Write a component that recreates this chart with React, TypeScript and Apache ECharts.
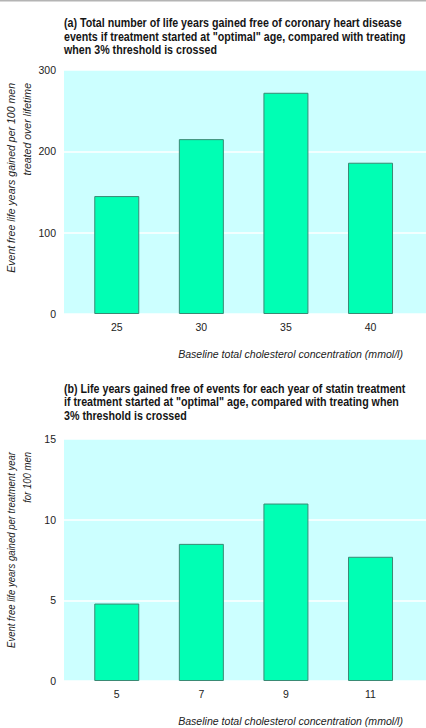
import React, { useEffect, useRef } from "react";
import * as echarts from "echarts";

const titleA =
  '(a) Total number of life years gained free of coronary heart disease\nevents if treatment started at "optimal" age, compared with treating\nwhen 3% threshold is crossed';
const titleB =
  '(b) Life years gained free of events for each year of statin treatment\nif treatment started at "optimal" age, compared with treating when\n3% threshold is crossed';

const categoriesA = ["25", "30", "35", "40"];
const valuesA = [145, 215, 272, 186];
const yMaxA = 300;
const yStepA = 100;

const categoriesB = ["5", "7", "9", "11"];
const valuesB = [4.8, 8.5, 11.0, 7.7];
const yMaxB = 15;
const yStepB = 5;

const yNameA = "Event free life years gained per 100 men\ntreated over lifetime";
const yNameB = "Event free life years gained per treatment year\nfor 100 men";
const xNameText = "Baseline total cholesterol concentration (mmol/l)";

const FONT = '"Liberation Sans", Arial, sans-serif';
const TXT = "#222";

function xAxisFor(gridIndex: number, cats: string[]) {
  const idx = cats.map((_, i) => i);
  return {
    type: "value",
    gridIndex,
    min: -0.624,
    max: 3.656,
    axisLine: { show: false },
    axisTick: { show: false },
    splitLine: { show: false },
    axisLabel: {
      customValues: idx,
      formatter: (v: number) => cats[Math.round(v)] ?? "",
      margin: 7,
      fontSize: 10.5,
      fontFamily: FONT,
      color: TXT,
    },
  };
}

function yAxisFor(gridIndex: number, max: number, step: number) {
  return {
    type: "value",
    gridIndex,
    min: 0,
    max,
    interval: step,
    axisLine: { show: false },
    axisTick: { show: false },
    splitLine: { show: true, lineStyle: { color: "#ffffff", width: 1.5 } },
    axisLabel: { margin: 8, fontSize: 10.5, fontFamily: FONT, color: TXT },
  };
}

function barSeries(idx: number, vals: number[]) {
  return {
    type: "bar",
    xAxisIndex: idx,
    yAxisIndex: idx,
    barWidth: 45,
    data: vals.map((v, i) => [i, v]),
    itemStyle: { color: "#00ffb4", borderColor: "#3a8a74", borderWidth: 1 },
  };
}

export default function App() {
  const ref = useRef<HTMLDivElement>(null);
  useEffect(() => {
    if (!ref.current) return;
    const chart = echarts.init(ref.current, undefined, { renderer: "svg" });
    const titleStyle = {
      fontSize: 12,
      fontWeight: "bold",
      fontFamily: FONT,
      fill: "#151515",
      lineHeight: 13.7,
      align: "left",
      verticalAlign: "top",
    };
    const axisNameStyle = {
      fontSize: 11.5,
      fontStyle: "italic",
      fontFamily: FONT,
      fill: TXT,
    };
    chart.setOption({
      animation: false,
      backgroundColor: "#ffffff",
      grid: [
        {
          left: 64,
          right: 0,
          top: 70,
          height: 244,
          show: true,
          backgroundColor: "#ccffff",
          borderWidth: 0,
        },
        {
          left: 64,
          right: 0,
          top: 439,
          height: 242,
          show: true,
          backgroundColor: "#ccffff",
          borderWidth: 0,
        },
      ],
      xAxis: [xAxisFor(0, categoriesA), xAxisFor(1, categoriesB)],
      yAxis: [yAxisFor(0, yMaxA, yStepA), yAxisFor(1, yMaxB, yStepB)],
      series: [barSeries(0, valuesA), barSeries(1, valuesB)],
      graphic: [
        {
          type: "line",
          shape: { x1: 0, y1: 0.75, x2: 426, y2: 0.75 },
          style: { stroke: "#b4b4b4", lineWidth: 1.5 },
        },
        {
          type: "text",
          x: 64,
          y: 16,
          scaleX: 0.89,
          style: { text: titleA, ...titleStyle },
        },
        {
          type: "text",
          x: 64,
          y: 381.5,
          scaleX: 0.89,
          style: { text: titleB, ...titleStyle },
        },
        {
          type: "text",
          x: 403,
          y: 353.5,
          scaleX: 0.92,
          style: {
            text: xNameText,
            align: "right",
            verticalAlign: "middle",
            ...axisNameStyle,
          },
        },
        {
          type: "text",
          x: 403,
          y: 721,
          scaleX: 0.92,
          style: {
            text: xNameText,
            align: "right",
            verticalAlign: "middle",
            ...axisNameStyle,
          },
        },
        {
          type: "text",
          x: 3,
          y: 83,
          rotation: Math.PI / 2,
          scaleX: 0.918,
          style: {
            text: yNameA,
            align: "right",
            verticalAlign: "top",
            lineHeight: 16,
            ...axisNameStyle,
          },
        },
        {
          type: "text",
          x: 3,
          y: 452,
          rotation: Math.PI / 2,
          scaleX: 0.83,
          style: {
            text: yNameB,
            align: "right",
            verticalAlign: "top",
            lineHeight: 16,
            ...axisNameStyle,
          },
        },
      ],
    });
    return () => chart.dispose();
  }, []);
  return (
    <div
      ref={ref}
      style={{ position: "fixed", left: 0, top: 0, width: 426, height: 728 }}
    />
  );
}
